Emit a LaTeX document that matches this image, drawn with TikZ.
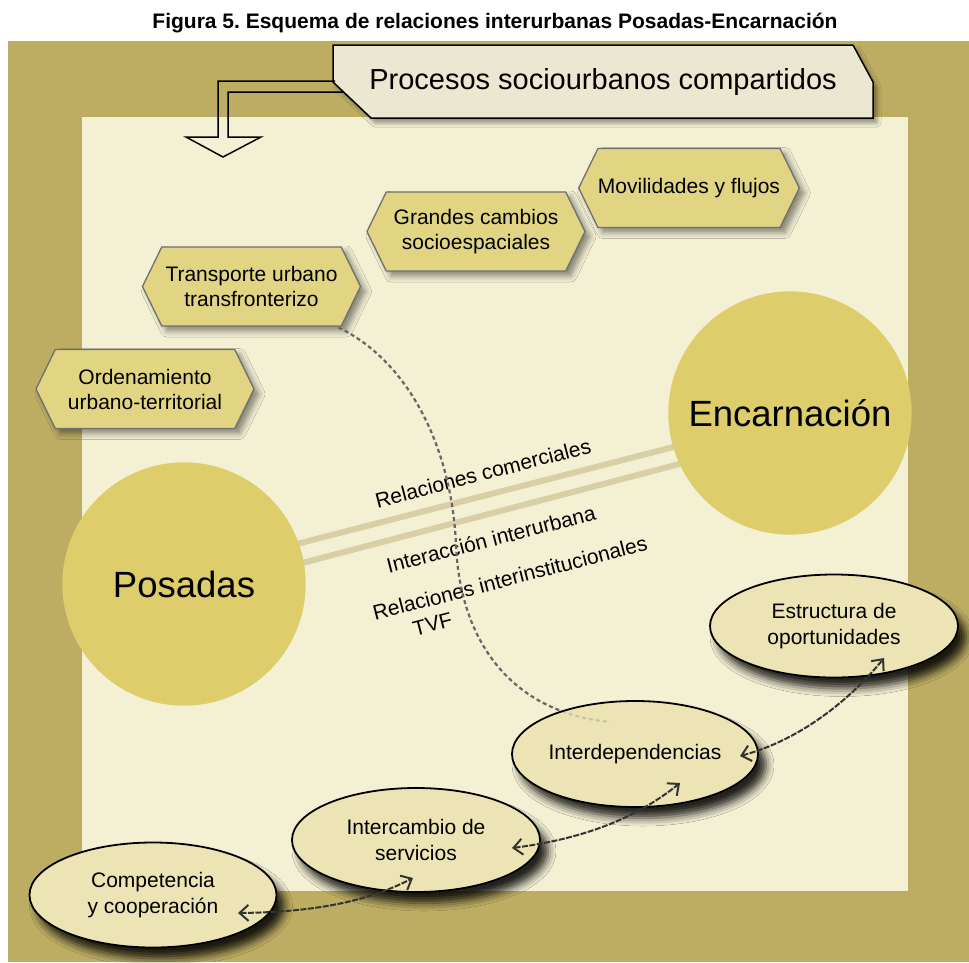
\documentclass[tikz,border=0pt]{standalone}
\usepackage{fontspec}
\setmainfont{Liberation Sans}
\usetikzlibrary{shapes.geometric,shapes.symbols,arrows.meta,shadows.blur}
\definecolor{frameol}{HTML}{BDAD63}
\definecolor{innerbg}{HTML}{F3F0D4}
\definecolor{hexfill}{HTML}{E1D584}
\definecolor{hexline}{HTML}{707070}
\definecolor{cityfill}{HTML}{DDCD6B}
\definecolor{ellfill}{HTML}{ECE4B4}
\definecolor{bandcol}{HTML}{D8D0A4}
\definecolor{bannerfill}{HTML}{ECE7D0}
\newcommand\myfs[2]{\fontsize{#1}{#2}\selectfont}
\frenchspacing
\begin{document}
\begin{tikzpicture}[x=1pt,y=-1pt,
  hexa/.style={signal, signal to=west and east, signal pointer angle=128,
    draw=hexline, line width=1.3pt, fill=hexfill, minimum width=218pt,
    minimum height=79pt, inner sep=0pt, align=center, font=\myfs{21}{25},
    blur shadow={shadow xshift=5pt, shadow yshift=-5pt, shadow opacity=45, shadow blur radius=6pt}},
  city/.style={circle, fill=cityfill, minimum size=243pt, inner sep=0pt, font=\myfs{36.5}{40}},
  ell/.style={ellipse, draw=black, line width=1.8pt, fill=ellfill, inner sep=0pt,
    align=center, font=\myfs{21}{26},
    blur shadow={shadow xshift=8pt, shadow yshift=-11pt, shadow opacity=85, shadow blur radius=8pt}},
  band/.style={draw=bandcol, line width=6pt},
  lbl/.style={rotate=14.5, font=\myfs{21}{25}, inner sep=0pt, align=left},
  conn/.style={draw=black!80, line width=2pt, dash pattern=on 6pt off 1.5pt,
    {Straight Barb[length=9pt,width=16pt]}-{Straight Barb[length=9pt,width=16pt]}},
  dcurve/.style={draw=black!60, line width=2.2pt, dash pattern=on 4pt off 3pt},
  bannerbox/.style={fill=bannerfill, draw=black, line width=1.5pt,
    blur shadow={shadow xshift=4pt, shadow yshift=-5pt, shadow opacity=40, shadow blur radius=4pt}},
  bentarrow/.style={draw=black, line width=1.5pt, line join=miter}
]
\useasboundingbox (0,0) rectangle (969,962);
\fill[white] (0,0) rectangle (969,962);
\fill[frameol] (8,41) rectangle (969,962);
\fill[innerbg] (82,117) rectangle (908,891);

\node[font=\bfseries\myfs{21}{24}] (title) at (495,23) {Figura 5. Esquema de relaciones interurbanas Posadas-Encarnación};

% banner
\path[bannerbox] (333,45) -- (853,45) -- (873,82) -- (873,118) -- (371,118) -- (333,82) -- cycle;
\node[font=\myfs{29}{32}] (banner) at (603,82) {Procesos sociourbanos compartidos};

% bent arrow
\draw[bentarrow] (335,81) -- (218,81) -- (218,137) -- (186,137) -- (223,157) -- (261,137) -- (228,137) -- (228,92) -- (343,92);

% hexagons
\node[hexa] (movil) at (689,188) {Movilidades y flujos};
\node[hexa] (grandes) at (476,231.5) {Grandes cambios\\socioespaciales};
\node[hexa] (trans) at (251.5,286.5) {Transporte urbano\\transfronterizo};
\node[hexa] (orden) at (145,389) {Ordenamiento\\urbano-territorial};

% cities
\node[city] (posadas) at (184,584) {};
\node[city] (encar) at (790,413) {};
\draw[band] ([shift={(0,-11)}]posadas.center) -- ([shift={(0,4)}]encar.center);
\draw[band] ([shift={(0,10)}]posadas.center) -- ([shift={(0,22)}]encar.center);
\node[city] (posadasT) at (184,584) {Posadas};
\node[city] (encarT) at (790,413) {Encarnación};

% labels
\node[lbl] (lcom) at (483,473) {Relaciones comerciales};
\node[lbl] (linter) at (491,539) {Interacción interurbana};
\node[lbl] (linst) at (513,590) {Relaciones interinstitucionales\\\hspace*{35pt}TVF};

% dashed curve
\draw[dcurve] ([shift={(87,41)}]trans.center) .. controls (410,362) and (452,450) .. (456,545)
   .. controls (460,640) and (510,712) .. (610,722);

% ellipses
\node[ell, minimum width=248pt, minimum height=103pt] (estr) at (834,626) {Estructura de\\oportunidades};
\node[ell, minimum width=246pt, minimum height=106pt] (interd) at (635,754) {Interdependencias};
\node[ell, minimum width=248pt, minimum height=104pt] (interc) at (416,840) {Intercambio de\\servicios};
\node[ell, minimum width=247pt, minimum height=105pt] (comp) at (153,895) {Competencia\\y cooperación};

\begin{scope}
  \clip (635,754) ellipse [x radius=122, y radius=52];
  \draw[dcurve, opacity=0.25] ([shift={(87,41)}]trans.center) .. controls (410,362) and (452,450) .. (456,545)
   .. controls (460,640) and (510,712) .. (610,722);
\end{scope}

% connectors
\draw[conn] ([shift={(85,18)}]comp.center) .. controls +(82,-1) and +(-43,22) .. ([shift={(-3,38)}]interc.center);
\draw[conn] ([shift={(96,8)}]interc.center) .. controls +(78,-10) and +(-40,32) .. ([shift={(45,29)}]interd.center);
\draw[conn] ([shift={(105,2)}]interd.center) .. controls +(60,-16) and +(-34,42) .. ([shift={(50,32)}]estr.center);
\end{tikzpicture}
\end{document}
